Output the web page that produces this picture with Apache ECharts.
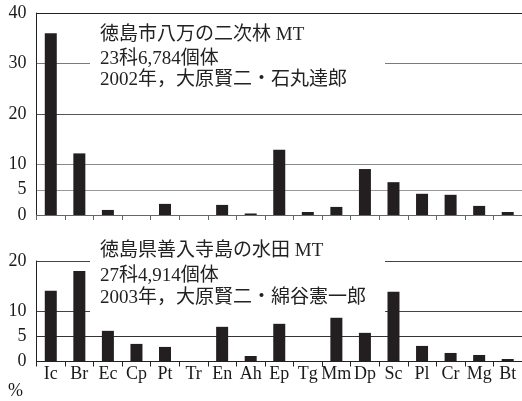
<!DOCTYPE html>
<html>
<head>
<meta charset="utf-8">
<script src="https://cdn.jsdelivr.net/npm/echarts@6/dist/echarts.min.js"></script>
<style>
  html, body { margin: 0; padding: 0; background: #fff; }
  #chart { width: 522px; height: 401px; }
</style>
</head>
<body>
<div id="chart"></div>
<script>
// Families (abbreviations) shared by both panels
const categories = ['Ic', 'Br', 'Ec', 'Cp', 'Pt', 'Tr', 'En', 'Ah', 'Ep', 'Tg', 'Mm', 'Dp', 'Sc', 'Pl', 'Cr', 'Mg', 'Bt'];
// Percent of individuals — secondary forest, Hachiman, Tokushima City (2002)
const forestPct = [36.0, 12.2, 1.0, 0, 2.2, 0, 2.0, 0.3, 12.9, 0.6, 1.6, 9.1, 6.5, 4.2, 4.0, 1.8, 0.6];
// Percent of individuals — paddy field, Zennyuji Island (2003)
const paddyPct = [14.1, 18.0, 6.1, 3.5, 2.9, 0, 6.9, 1.1, 7.5, 0, 8.7, 5.7, 13.9, 3.1, 1.7, 1.3, 0.5];
// Tick labels shown on each value axis
const forestTicks = [0, 5, 10, 20, 30, 40];
const paddyTicks = [0, 5, 10, 20];
// Caption lines for each panel
const forestCaption = ['徳島市八万の二次林 MT', '23科6,784個体', '2002年，大原賢二・石丸達郎'];
const paddyCaption = ['徳島県善入寺島の水田 MT', '27科4,914個体', '2003年，大原賢二・綿谷憲一郎'];

const FONT = "'Liberation Serif', 'Noto Sans CJK JP', serif";
const BAR = '#231f20';
const INK = '#1a1a1a';

const chart = echarts.init(document.getElementById('chart'), null, { renderer: 'canvas' });

function xAxis(gridIndex, showLabels, lineColor) {
  return {
    type: 'category',
    gridIndex: gridIndex,
    data: categories,
    boundaryGap: true,
    axisLine: { lineStyle: { color: lineColor, width: 1 } },
    axisTick: { show: true, length: 5, alignWithLabel: false, lineStyle: { color: lineColor } },
    axisLabel: {
      show: showLabels, interval: 0, margin: 4,
      fontFamily: FONT, fontSize: 18, color: INK
    },
    splitLine: { show: false }
  };
}

function yAxis(gridIndex, max, ticks, lineColors) {
  return {
    type: 'value',
    gridIndex: gridIndex,
    min: 0, max: max, interval: 5,
    axisLine: { show: true, lineStyle: { color: '#222', width: 1 } },
    axisTick: { show: false },
    axisLabel: {
      margin: 10, fontFamily: FONT, fontSize: 18, color: INK,
      formatter: v => (ticks.indexOf(v) >= 0 ? String(v) : '')
    },
    splitLine: {
      show: true,
      showMinLine: true,
      showMaxLine: true,
      lineStyle: { color: lineColors, width: 1 }
    }
  };
}

function captionText(lines, ys) {
  return lines.map((t, i) => ({
    type: 'text',
    left: 100,
    top: ys[i] - 11.5,
    z: 5,
    style: { text: t, font: '19px ' + FONT, fill: '#222' }
  }));
}

const option = {
  animation: false,
  backgroundColor: '#fff',
  grid: [
    { left: 36.5, top: 13, width: 488, height: 202 },
    { left: 36.5, top: 261, width: 488, height: 100.5 }
  ],
  xAxis: [
    xAxis(0, false, '#666'),
    xAxis(1, true, '#222')
  ],
  yAxis: [
    // lines at 0,5,10,15,20,25,30,35,40
    yAxis(0, 40, forestTicks, ['rgba(0,0,0,0)', '#9a9a9a', '#8a8a8a', 'rgba(0,0,0,0)', '#555', 'rgba(0,0,0,0)', '#7a7a7a', 'rgba(0,0,0,0)', '#222']),
    // lines at 0,5,10,15,20
    yAxis(1, 20, paddyTicks, ['rgba(0,0,0,0)', '#333', '#444', 'rgba(0,0,0,0)', '#444'])
  ],
  series: [
    {
      type: 'bar', xAxisIndex: 0, yAxisIndex: 0, data: forestPct,
      barWidth: 12, itemStyle: { color: BAR }, z: 3
    },
    {
      type: 'bar', xAxisIndex: 1, yAxisIndex: 1, data: paddyPct,
      barWidth: 12, itemStyle: { color: BAR }, z: 3
    }
  ],
  graphic: [
    // white panels behind the captions
    { type: 'rect', z: 1, shape: { x: 90, y: 24, width: 295, height: 76 }, style: { fill: '#fff' } },
    { type: 'rect', z: 1, shape: { x: 90, y: 242, width: 295, height: 80 }, style: { fill: '#fff' } },
    ...captionText(forestCaption, [37.5, 61.5, 82.5]),
    ...captionText(paddyCaption, [253, 278, 300]),
    {
      type: 'text', left: 8, top: 382, z: 5,
      style: { text: '%', font: '18px ' + FONT, fill: INK }
    }
  ]
};

chart.setOption(option);
</script>
</body>
</html>
